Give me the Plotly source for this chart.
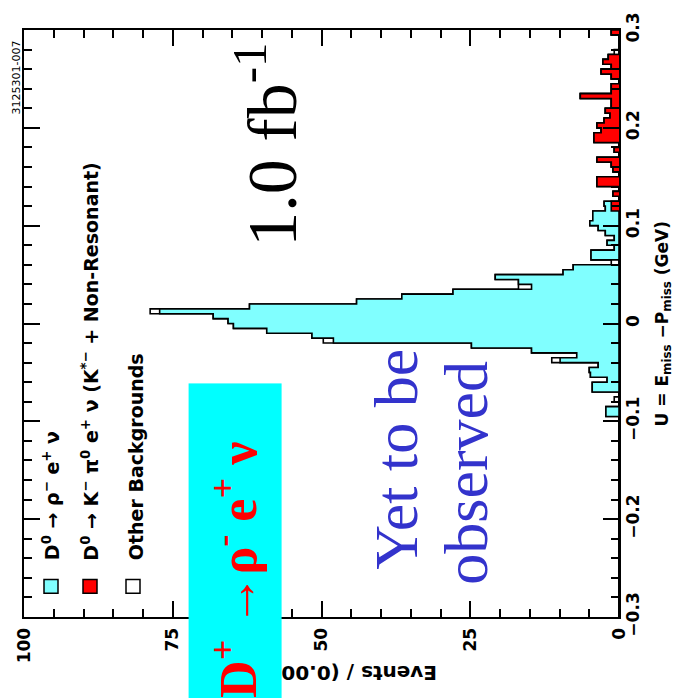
import numpy as np
import plotly.graph_objects as go

# ---- histogram data: 120 bins of 0.005 GeV from -0.3 to 0.3 ----
bin_width = 0.005
u_low, u_high = -0.3, 0.3
n_bins = 120

# D0 -> rho- e+ nu (signal MC), events per bin, keyed by bin index
signal_bins = {
    41: 2.2, 42: 2.2, 46: 4.5, 47: 4.5, 48: 2.0, 49: 4.8, 50: 5.0, 51: 3.5,
    52: 9.9, 53: 7.1, 54: 14.7, 55: 24.8, 56: 48.0, 57: 51.6, 58: 59.2,
    59: 64.8, 60: 65.7, 61: 68.2, 62: 77.2, 63: 62.1, 64: 44.1, 65: 36.5,
    66: 27.9, 67: 14.7, 68: 16.9, 69: 20.8, 70: 9.4, 71: 7.7, 73: 4.7,
    74: 4.7, 75: 0.8, 76: 2.0, 77: 0.8, 78: 2.3, 79: 3.5, 80: 4.9, 81: 4.4,
    82: 4.4, 83: 1.0, 84: 1.2,
}
# D0 -> K- pi0 e+ nu (K*- + non-resonant)
kpi_bins = {
    83: 1.3, 84: 1.3, 86: 1.0, 88: 3.7, 89: 3.7, 91: 1.0, 92: 1.3, 93: 3.7,
    95: 0.8, 97: 4.2, 98: 4.2, 99: 3.0, 100: 3.7, 101: 2.5, 102: 1.5,
    103: 2.3, 104: 1.3, 105: 1.3, 106: 6.5, 107: 1.3, 108: 1.3, 110: 1.3,
    111: 3.0, 112: 1.3, 113: 2.7, 114: 1.8, 119: 1.3,
}
# other backgrounds
other_bins = {44: 0.8, 52: 1.4, 56: 1.7, 62: 1.6, 67: 2.2, 72: 1.3, 115: 0.8}

u_ticks = [-0.3, -0.2, -0.1, 0.0, 0.1, 0.2, 0.3]
u_tick_text = ["\u22120.3", "\u22120.2", "\u22120.1", "0", "0.1", "0.2", "0.3"]
event_ticks = [0, 25, 50, 75, 100]

edges = u_low + bin_width * np.arange(n_bins + 1)


def as_array(d):
    a = np.zeros(n_bins)
    for k, v in d.items():
        a[k] = v
    return a


signal = as_array(signal_bins)
kpi = as_array(kpi_bins)
other = as_array(other_bins)

# stacked levels, drawn outermost first
level_kpi = kpi
level_sig = kpi + signal
level_all = kpi + signal + other


def step_outline(values):
    xs, ys = [0.0], [edges[0]]
    for i, v in enumerate(values):
        xs += [v, v]
        ys += [edges[i], edges[i + 1]]
    xs.append(0.0)
    ys.append(edges[-1])
    return xs, ys


fig = go.Figure()
for vals, fill in [(level_all, "#FFFFFF"), (level_sig, "#80FFFF"), (level_kpi, "#FF0000")]:
    xs, ys = step_outline(vals)
    fig.add_trace(go.Scatter(
        x=xs, y=ys, mode="lines", fill="tozerox", fillcolor=fill,
        line=dict(color="#000000", width=1.6), hoverinfo="skip", showlegend=False,
    ))

# plot frame in pixels
L, R, T, B = 24, 619, 23, 617
W, H = 678, 698


def pxx(x):
    return (x - L) / (R - L)


def pxy(y):
    return (B - y) / (B - T)


SANS = "DejaVu Sans"
SERIF = "Liberation Serif"
tickfont = dict(family=SANS, size=17, color="#000000", weight="bold")
axis_common = dict(
    showline=True, linecolor="#000000", linewidth=2, mirror="ticks",
    ticks="inside", ticklen=16, tickwidth=2, tickcolor="#000000",
    showgrid=False, zeroline=False, tickfont=tickfont, tickangle=-90,
)

fig.update_xaxes(
    range=[100, 0], tickvals=event_ticks, ticktext=[str(t) for t in event_ticks],
    minor=dict(dtick=5, ticks="inside", ticklen=8, tickwidth=2, tickcolor="#000000", showgrid=False),
    ticklabelstandoff=2, **axis_common,
)
fig.update_yaxes(
    range=[u_low, u_high], side="right", tickvals=u_ticks, ticktext=u_tick_text,
    minor=dict(dtick=0.02, ticks="inside", ticklen=8, tickwidth=2, tickcolor="#000000", showgrid=False),
    ticklabelstandoff=-2, **axis_common,
)

sans_b = dict(family=SANS, color="#000000", weight="bold")

annotations = [
    dict(text="3125301-007", x=pxx(16), y=pxy(71), textangle=-90,
         font=dict(family=SANS, size=11, color="#000000")),
    # legend entries
    dict(text="D<sup>0</sup> \u2192 \u03c1<sup>\u2212</sup> e<sup>+</sup> \u03bd",
         x=pxx(51), y=pxy(562), yanchor="bottom", textangle=-90, font=dict(size=19, **sans_b)),
    dict(text="D<sup>0</sup> \u2192 K<sup>\u2212</sup> \u03c0<sup>0</sup> e<sup>+</sup> \u03bd "
              "(K<sup>*\u2212</sup> + Non-Resonant)",
         x=pxx(90), y=pxy(562), yanchor="bottom", textangle=-90, font=dict(size=19, **sans_b)),
    dict(text="Other Backgrounds",
         x=pxx(136), y=pxy(562), yanchor="bottom", textangle=-90, font=dict(size=19, **sans_b)),
    # axis titles
    dict(text="U = E<sub>miss</sub> \u2212P<sub>miss</sub> (GeV)", x=pxx(663), y=pxy(321),
         textangle=-90, font=dict(size=17, **sans_b)),
    dict(text="Events / (0.005 GeV)", x=pxx(322), y=pxy(673),
         textangle=180, font=dict(size=20, **sans_b)),
    # slide text
    dict(text="1.0 fb<sup>-1</sup>", x=pxx(266), y=pxy(139), textangle=-90,
         font=dict(family=SERIF, size=70, color="#000000")),
    dict(text="Yet to be", x=pxx(396), y=pxy(458), textangle=-90,
         font=dict(family=SERIF, size=62, color="#3333CC")),
    dict(text="observed", x=pxx(466), y=pxy(471), textangle=-90,
         font=dict(family=SERIF, size=62, color="#3333CC")),
    dict(text="<b>D<sup>+</sup> \u2192\u03c1<sup>-</sup> e<sup>+</sup> \u03bd</b>",
         x=pxx(235), y=pxy(540), textangle=-90, width=314, height=92, align="left",
         bgcolor="#00FFFF", borderpad=0,
         font=dict(family=SERIF, size=52, color="#FF0000")),
]
for a in annotations:
    a.setdefault("xanchor", "center")
    a.setdefault("yanchor", "middle")
    a.update(xref="paper", yref="paper", showarrow=False)

# legend swatches
shapes = []
for xc, col in [(51, "#80FFFF"), (90, "#FF0000"), (133, "#FFFFFF")]:
    shapes.append(dict(type="rect", xref="paper", yref="paper",
                       x0=pxx(xc - 7), x1=pxx(xc + 7), y0=pxy(593), y1=pxy(579),
                       fillcolor=col, line=dict(color="#000000", width=1.5)))

fig.update_layout(
    width=W, height=H, autosize=False,
    margin=dict(l=L, r=W - R, t=T, b=H - B),
    paper_bgcolor="#FFFFFF", plot_bgcolor="#FFFFFF",
    annotations=annotations, shapes=shapes, showlegend=False,
)

fig.write_html("out.html")
